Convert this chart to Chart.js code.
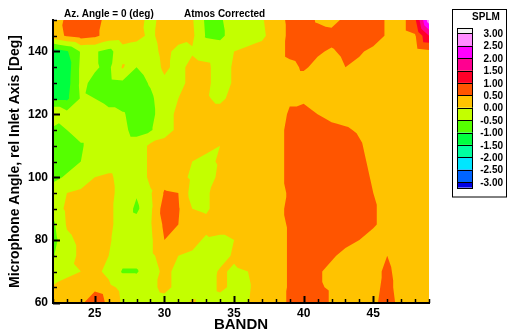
<!DOCTYPE html>
<html>
<head>
<meta charset="utf-8">
<script src="https://cdn.jsdelivr.net/npm/chart.js@4.4.1/dist/chart.umd.min.js"></script>
<style>
  html, body { margin: 0; padding: 0; background: #fff; }
  #wrap { width: 508px; height: 334px; }
</style>
</head>
<body>
<div id="wrap"><canvas id="splm-chart" width="508" height="334"></canvas></div>
<script>
// grid of the contour: BANDN along x, microphone angle along y
const bandn = [22, 23, 24, 25, 26, 27, 28, 29, 30, 31, 32, 33, 34, 35, 36, 37, 38, 39, 40, 41, 42, 43, 44, 45, 46, 47, 48, 49];
const angles = [60, 65, 70, 75, 80, 85, 90, 95, 100, 105, 110, 115, 120, 125, 130, 135, 140, 145, 150];

// SPLM values per angle, one entry per band
const spl60  = [0.1, 0.2, 0.35, 1.05, 0.3, -0.05, -0.2, -0.2, -0.15, -0.1, 0.05, -0.15, -0.1, -0.05, -0.02, 0.2, 0.35, 0.55, 0.75, 0.7, 0.45, 0.3, 0.3, 0.4, 0.7, 0.35, 0.25, 0.2];
const spl65  = [0.05, 0.15, 0.2, 0.3, 0.1, -0.1, -0.2, -0.1, 0.1, -0.1, -0.2, -0.15, 0.05, -0.05, -0.05, 0.2, 0.3, 0.55, 0.6, 0.55, 0.45, 0.3, 0.3, 0.35, 0.65, 0.3, 0.25, 0.2];
const spl70  = [-0.35, -0.1, 0.0, 0.1, -0.1, -0.55, -0.55, -0.2, 0.1, -0.1, -0.2, -0.2, 0.05, -0.05, 0.0, 0.2, 0.3, 0.55, 0.6, 0.55, 0.4, 0.3, 0.3, 0.35, 0.6, 0.3, 0.25, 0.2];
const spl75  = [-0.55, -0.2, 0.1, 0.2, 0.0, -0.3, -0.3, -0.1, 0.2, 0.0, -0.05, -0.15, -0.15, 0.05, 0.15, 0.25, 0.3, 0.55, 0.7, 0.6, 0.55, 0.4, 0.3, 0.3, 0.5, 0.25, 0.2, 0.2];
const spl80  = [-0.7, -0.1, 0.1, 0.2, 0.05, -0.2, -0.3, -0.1, 0.5, 0.3, 0.1, -0.05, -0.1, 0.0, 0.15, 0.25, 0.3, 0.55, 0.8, 0.8, 0.75, 0.6, 0.5, 0.35, 0.3, 0.25, 0.2, 0.2];
const spl85  = [-0.6, 0.05, 0.2, 0.25, 0.1, -0.2, -0.3, -0.05, 0.6, 0.5, 0.15, 0.1, 0.2, 0.2, 0.25, 0.3, 0.35, 0.55, 0.85, 0.85, 0.8, 0.75, 0.7, 0.55, 0.35, 0.25, 0.2, 0.2];
const spl90  = [-0.3, 0.1, 0.2, 0.25, 0.1, -0.2, -0.6, -0.1, 0.75, 0.55, 0.0, -0.05, 0.15, 0.25, 0.25, 0.3, 0.35, 0.6, 0.85, 0.85, 0.8, 0.8, 0.75, 0.55, 0.35, 0.25, 0.2, 0.2];
const spl95  = [-0.3, 0.0, 0.1, 0.2, 0.15, -0.2, -0.45, -0.05, 0.55, 0.5, -0.2, -0.05, 0.15, 0.2, 0.25, 0.3, 0.35, 0.55, 0.85, 0.85, 0.8, 0.75, 0.7, 0.5, 0.35, 0.25, 0.2, 0.2];
const spl100 = [-0.6, -0.45, -0.3, 0.0, 0.1, -0.2, -0.3, 0.1, 0.3, 0.2, -0.1, -0.2, 0.1, 0.2, 0.25, 0.3, 0.35, 0.6, 0.85, 0.85, 0.8, 0.75, 0.65, 0.45, 0.35, 0.25, 0.2, 0.2];
const spl105 = [-0.8, -0.65, -0.5, -0.3, -0.3, -0.3, -0.3, 0.1, 0.2, 0.2, 0.0, -0.1, 0.05, 0.2, 0.25, 0.3, 0.35, 0.6, 0.8, 0.85, 0.8, 0.7, 0.6, 0.4, 0.3, 0.25, 0.2, 0.2];
const spl110 = [-0.9, -0.75, -0.55, -0.3, -0.3, -0.3, -0.3, 0.1, 0.2, 0.2, 0.15, 0.1, 0.0, 0.2, 0.25, 0.3, 0.35, 0.6, 0.8, 0.8, 0.75, 0.7, 0.55, 0.35, 0.25, 0.2, 0.2, 0.2];
const spl115 = [-0.65, -0.5, -0.3, -0.3, -0.3, -0.4, -0.65, -0.55, -0.2, 0.1, 0.2, 0.2, 0.2, 0.25, 0.3, 0.3, 0.35, 0.6, 0.75, 0.7, 0.6, 0.55, 0.45, 0.3, 0.25, 0.2, 0.2, 0.2];
const spl120 = [0.05, -0.3, -0.3, 0.0, -0.3, -0.45, -0.7, -0.65, -0.2, 0.1, 0.15, 0.2, 0.2, 0.2, 0.25, 0.25, 0.3, 0.55, 0.6, 0.5, 0.4, 0.35, 0.3, 0.25, 0.2, 0.2, 0.2, 0.2];
const spl125 = [-1.1, -1.1, -0.45, -0.5, -0.75, -0.75, -0.8, -0.6, -0.2, 0.0, 0.1, 0.05, -0.1, 0.15, 0.2, 0.25, 0.3, 0.45, 0.45, 0.35, 0.3, 0.25, 0.25, 0.2, 0.2, 0.2, 0.2, 0.2];
const spl130 = [-1.3, -1.2, -0.4, -0.6, -0.65, -0.6, -0.7, -0.45, -0.1, -0.15, 0.15, 0.1, -0.2, 0.05, 0.2, 0.25, 0.3, 0.35, 0.35, 0.3, 0.25, 0.25, 0.25, 0.25, 0.2, 0.2, 0.2, 0.2];
const spl135 = [-1.35, -1.25, -0.4, -0.45, -0.6, 0.05, -0.5, -0.3, 0.1, -0.15, 0.15, 0.1, -0.2, 0.05, 0.2, 0.25, 0.3, 0.4, 0.55, 0.4, 0.3, 0.5, 0.4, 0.3, 0.25, 0.25, 0.25, 0.3];
const spl140 = [-1.3, -1.05, -0.45, -0.45, -0.65, -0.2, -0.25, -0.2, 0.15, -0.15, -0.05, -0.2, -0.25, 0.0, 0.1, 0.2, 0.3, 0.6, 0.65, 0.55, 0.45, 0.6, 0.55, 0.4, 0.3, 0.3, 0.3, 0.4];
const spl145 = [0.3, 0.55, 0.7, 0.6, 0.3, 0.25, 0.15, -0.1, 0.2, 0.2, 0.1, -0.55, -0.6, -0.3, -0.2, -0.1, 0.25, 0.6, 0.75, 0.7, 0.65, 0.75, 0.8, 0.7, 0.45, 0.3, 0.45, 1.5];
const spl150 = [0.2, 0.6, 0.9, 0.7, 0.3, 0.3, 0.2, -0.15, 0.2, 0.45, 0.05, -0.6, -0.55, -0.3, -0.2, -0.05, 0.3, 0.6, 0.7, 0.45, 0.35, 0.6, 0.75, 0.7, 0.45, 0.3, 0.9, 2.8];

const splRows = [spl60, spl65, spl70, spl75, spl80, spl85, spl90, spl95, spl100,
                 spl105, spl110, spl115, spl120, spl125, spl130, spl135, spl140, spl145, spl150];

// contour levels and the fill colour of each band (lowest band first)
const levels = [-3.0, -2.5, -2.0, -1.5, -1.0, -0.5, 0.0, 0.5, 1.0, 1.5, 2.0, 2.5, 3.0];
const bandColors = ['#0000e6', '#0064ff', '#00e6ff', '#00ffa0', '#00ff40', '#55ff00', '#c3ff00',
                    '#ffc300', '#ff5500', '#ff0028', '#ff0090', '#ff00ff', '#ff8cff', '#f2f2f2'];

const xTickLabels = [25, 30, 35, 40, 45];
const yTickLabels = [60, 80, 100, 120, 140];

const FONT = "'Liberation Sans', Arial, sans-serif";

// keep the part of a polygon where value >= t (linear along the edges)
function clipAbove(poly, t) {
    const out = [];
    for (let i = 0; i < poly.length; i++) {
        const a = poly[i];
        const b = poly[(i + 1) % poly.length];
        const aIn = a.v >= t;
        const bIn = b.v >= t;
        if (aIn) out.push(a);
        if (aIn !== bIn) {
            const f = (t - a.v) / (b.v - a.v);
            out.push({ x: a.x + f * (b.x - a.x), y: a.y + f * (b.y - a.y), v: t });
        }
    }
    return out;
}

const contourPlugin = {
    id: 'contour',
    beforeDraw(chart) {
        const { ctx, chartArea, scales: { x, y } } = chart;
        const tris = [];
        for (let j = 0; j < angles.length - 1; j++) {
            for (let i = 0; i < bandn.length - 1; i++) {
                const p00 = { x: bandn[i], y: angles[j], v: splRows[j][i] };
                const p10 = { x: bandn[i + 1], y: angles[j], v: splRows[j][i + 1] };
                const p01 = { x: bandn[i], y: angles[j + 1], v: splRows[j + 1][i] };
                const p11 = { x: bandn[i + 1], y: angles[j + 1], v: splRows[j + 1][i + 1] };
                tris.push([p00, p10, p11], [p00, p11, p01]);
            }
        }
        ctx.save();
        ctx.beginPath();
        ctx.rect(chartArea.left, chartArea.top, chartArea.right - chartArea.left, chartArea.bottom - chartArea.top);
        ctx.clip();
        // painter's way: each level paints the region above it
        for (let k = 0; k <= levels.length; k++) {
            ctx.beginPath();
            tris.forEach(tri => {
                const poly = k === 0 ? tri : clipAbove(tri, levels[k - 1]);
                if (poly.length < 3) return;
                poly.forEach((p, n) => {
                    const px = x.getPixelForValue(p.x);
                    const py = y.getPixelForValue(p.y);
                    if (n === 0) ctx.moveTo(px, py); else ctx.lineTo(px, py);
                });
                ctx.closePath();
            });
            ctx.fillStyle = bandColors[k];
            ctx.fill();
        }
        ctx.restore();
    },
    afterDraw(chart) {
        const { ctx, chartArea, scales: { x, y } } = chart;
        ctx.save();
        ctx.strokeStyle = '#000';

        // inward tick marks
        for (let v = bandn[0]; v <= bandn[bandn.length - 1]; v++) {
            const major = xTickLabels.includes(v);
            const px = Math.round(x.getPixelForValue(v)) + 0.5;
            ctx.lineWidth = major ? 2 : 1.5;
            ctx.beginPath();
            ctx.moveTo(px, chartArea.bottom);
            ctx.lineTo(px, chartArea.bottom - (major ? 7 : 4));
            ctx.stroke();
        }
        for (let v = angles[0]; v <= angles[angles.length - 1]; v += 5) {
            const major = yTickLabels.includes(v);
            const py = Math.round(y.getPixelForValue(v)) + 0.5;
            ctx.lineWidth = major ? 2 : 1.5;
            ctx.beginPath();
            ctx.moveTo(chartArea.left, py);
            ctx.lineTo(chartArea.left + (major ? 7 : 4), py);
            ctx.stroke();
        }

        // header texts
        ctx.fillStyle = '#000';
        ctx.font = 'bold 10px ' + FONT;
        ctx.textBaseline = 'middle';
        ctx.textAlign = 'left';
        ctx.fillText('Az. Angle = 0 (deg)', 64, 14);
        ctx.fillText('Atmos Corrected', 184, 14);

        // colour legend
        const lx = 452.5, ly = 9.5, lw = 54, lh = 187.5;
        ctx.lineWidth = 1;
        ctx.strokeRect(lx, ly, lw, lh);
        ctx.textAlign = 'center';
        ctx.fillText('SPLM', 486, 17);
        const step = 12.4;
        const top = 33.3;
        const sx = 457, sw = 16;
        for (let k = bandColors.length - 1; k >= 0; k--) {
            const row = bandColors.length - 1 - k;
            let y0 = top + (row - 1) * step;
            let y1 = y0 + step;
            if (row === 0) y0 = top - 5.5;
            if (row === bandColors.length - 1) y1 = y0 + 5.5;
            ctx.fillStyle = bandColors[k];
            ctx.fillRect(sx, y0, sw, y1 - y0);
            ctx.strokeRect(sx + 0.5, Math.round(y0) + 0.5, sw - 1, Math.round(y1) - Math.round(y0));
        }
        ctx.fillStyle = '#000';
        ctx.textAlign = 'right';
        levels.slice().reverse().forEach((lv, n) => {
            ctx.fillText(lv.toFixed(2), 503, top + n * step + 1);
        });
        ctx.restore();
    }
};

const ctx = document.getElementById('splm-chart').getContext('2d');
new Chart(ctx, {
    type: 'scatter',
    data: { datasets: [] },
    options: {
        responsive: false,
        animation: false,
        devicePixelRatio: 1,
        layout: { padding: { top: 20, right: 79, left: 0, bottom: 0 } },
        plugins: { legend: { display: false }, tooltip: { enabled: false } },
        scales: {
            x: {
                type: 'linear',
                position: 'bottom',
                min: bandn[0],
                max: bandn[bandn.length - 1],
                grid: { display: false, drawTicks: false },
                border: { display: true, color: '#000', width: 2 },
                ticks: { color: '#000', padding: 3, font: { family: FONT, size: 12, weight: 'bold' } },
                afterBuildTicks: s => { s.ticks = xTickLabels.map(v => ({ value: v })); },
                afterFit: s => { s.height = 31; },
                title: { display: true, text: 'BANDN', color: '#000', padding: 0,
                         font: { family: FONT, size: 15, weight: 'bold' } }
            },
            y: {
                type: 'linear',
                position: 'left',
                min: angles[0],
                max: angles[angles.length - 1],
                grid: { display: false, drawTicks: false },
                border: { display: true, color: '#000', width: 2 },
                ticks: { color: '#000', padding: 5, font: { family: FONT, size: 12, weight: 'bold' } },
                afterBuildTicks: s => { s.ticks = yTickLabels.map(v => ({ value: v })); },
                afterFit: s => { s.width = 53; },
                title: { display: true, text: 'Microphone Angle, rel Inlet Axis [Deg]', color: '#000',
                         padding: { top: 7, bottom: 0 }, font: { family: FONT, size: 14, weight: 'bold' } }
            }
        }
    },
    plugins: [contourPlugin]
});
</script>
</body>
</html>
